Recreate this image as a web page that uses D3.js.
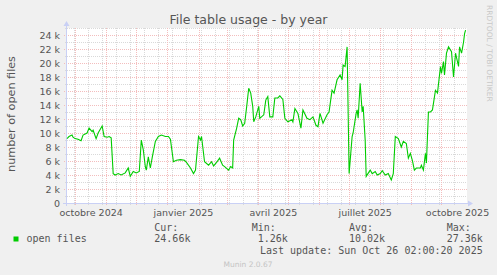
<!DOCTYPE html>
<html><head><meta charset="utf-8">
<script src="https://cdn.jsdelivr.net/npm/d3@7"></script>
<style>
html,body{margin:0;padding:0;background:#F0F0F0;}
svg{display:block;}
text{font-family:"DejaVu Sans",sans-serif;}
.mono{font-family:"DejaVu Sans Mono",monospace;white-space:pre;}
</style></head><body>
<svg id="c" width="497" height="275"></svg>
<script>
// ---- data ----
const dates = ["2024-09-23","2024-09-25","2024-09-28","2024-09-29","2024-10-01","2024-10-04","2024-10-07","2024-10-09","2024-10-13","2024-10-15","2024-10-18","2024-10-19","2024-10-22","2024-10-24","2024-10-28","2024-10-30","2024-11-02","2024-11-04","2024-11-06","2024-11-08","2024-11-10","2024-11-13","2024-11-16","2024-11-20","2024-11-23","2024-11-25","2024-11-28","2024-12-01","2024-12-04","2024-12-06","2024-12-08","2024-12-10","2024-12-11","2024-12-13","2024-12-15","2024-12-17","2024-12-20","2024-12-23","2024-12-26","2024-12-30","2025-01-02","2025-01-04","2025-01-07","2025-01-10","2025-01-14","2025-01-18","2025-01-20","2025-01-24","2025-01-27","2025-01-29","2025-02-01","2025-02-03","2025-02-04","2025-02-07","2025-02-11","2025-02-14","2025-02-16","2025-02-19","2025-02-22","2025-02-25","2025-02-27","2025-03-03","2025-03-05","2025-03-07","2025-03-08","2025-03-11","2025-03-13","2025-03-15","2025-03-17","2025-03-19","2025-03-21","2025-03-23","2025-03-25","2025-03-27","2025-03-28","2025-03-30","2025-04-02","2025-04-03","2025-04-07","2025-04-09","2025-04-11","2025-04-13","2025-04-16","2025-04-18","2025-04-21","2025-04-23","2025-04-26","2025-04-28","2025-05-01","2025-05-05","2025-05-06","2025-05-08","2025-05-11","2025-05-14","2025-05-16","2025-05-20","2025-05-23","2025-05-26","2025-05-29","2025-05-31","2025-06-02","2025-06-05","2025-06-09","2025-06-11","2025-06-14","2025-06-16","2025-06-19","2025-06-22","2025-06-24","2025-06-25","2025-06-27","2025-06-29","2025-07-01","2025-07-04","2025-07-05","2025-07-08","2025-07-09","2025-07-10","2025-07-12","2025-07-14","2025-07-15","2025-07-17","2025-07-18","2025-07-22","2025-07-24","2025-07-27","2025-07-29","2025-08-01","2025-08-03","2025-08-06","2025-08-09","2025-08-12","2025-08-14","2025-08-16","2025-08-19","2025-08-22","2025-08-24","2025-08-27","2025-08-29","2025-08-31","2025-09-02","2025-09-04","2025-09-06","2025-09-10","2025-09-11","2025-09-13","2025-09-15","2025-09-16","2025-09-18","2025-09-20","2025-09-22","2025-09-25","2025-09-27","2025-09-30","2025-10-01","2025-10-03","2025-10-04","2025-10-06","2025-10-08","2025-10-11","2025-10-13","2025-10-15","2025-10-18","2025-10-19","2025-10-21","2025-10-23","2025-10-24","2025-10-25"];
const openFilesK = [9.2,9.5,9.7,9.4,9.2,9.1,8.9,9.7,10.0,10.7,10.2,10.4,9.2,10.0,11.0,9.5,9.4,9.5,9.3,4.2,4.0,4.2,4.0,4.3,5.0,3.8,4.5,4.3,4.5,9.0,7.6,5.2,4.7,6.6,5.0,6.6,8.8,9.5,9.7,9.5,9.5,9.1,5.9,6.1,6.2,6.1,5.8,5.0,4.2,4.7,9.5,9.0,9.5,5.9,5.4,5.9,5.3,5.8,6.4,5.4,5.2,4.7,5.2,5.0,9.0,10.7,12.1,11.9,11.0,11.4,13.8,16.4,15.7,13.8,11.6,12.3,13.8,12.1,12.6,14.7,15.2,12.3,12.3,15.0,15.0,15.3,14.8,12.1,11.6,11.9,11.6,13.5,12.8,10.7,13.3,12.1,11.9,12.3,11.1,10.9,12.8,11.4,12.6,13.0,16.1,15.7,17.6,18.3,17.6,19.7,19.5,22.3,4.2,9.5,10.0,12.8,13.3,12.1,17.1,13.0,13.8,9.0,3.8,4.7,4.2,4.5,4.0,4.2,4.6,4.0,4.2,3.3,4.2,9.5,9.2,8.0,8.8,8.5,6.4,7.1,6.1,4.7,5.0,5.0,5.4,4.7,7.1,5.7,13.0,13.0,13.3,16.1,15.7,19.5,18.5,20.2,18.3,21.4,22.3,21.6,18.0,21.4,19.5,22.3,21.4,23.0,24.2,24.7];
const yTicks = [0,2,4,6,8,10,12,14,16,18,20,22,24];
const yMinorTicks = [1,3,5,7,9,11,13,15,17,19,21,23,25];
const labelMonths = ["2024-10-01","2025-01-01","2025-04-01","2025-07-01","2025-10-01"];
const monthLabels = ["octobre 2024","janvier 2025","avril 2025","juillet 2025","octobre 2025"];
const statNames = ["Cur:","Min:","Avg:","Max:"];
const statValues = ["24.66k"," 1.26k","10.02k","27.36k"];
const seriesName = "open files";
const lastUpdate = "Last update: Sun Oct 26 02:00:20 2025";

// ---- layout ----
const L=67, R=467, T=28, B=203;
const svg = d3.select("#c");
const parse = d3.timeParse("%Y-%m-%d");
const startT = new Date(2024,8,23,0), endT = new Date(2025,9,26,10);
const x = d3.scaleTime().domain([startT,endT]).range([L,R]);
const y = d3.scaleLinear().domain([0,25]).range([B,T]);
const MAJ="#F3BDBD", MIN="#D9D9D9", AX="#C9D0F5", TXT="#555";

svg.append("rect").attr("width",497).attr("height",275).attr("fill","#F0F0F0");
svg.append("rect").attr("x",L).attr("y",T).attr("width",R-L).attr("height",B-T).attr("fill","#fff");

// minor vertical grid: every second Monday
const mondays = d3.timeMonday.range(startT,endT).filter((d,i)=>i%2===1);
const months = d3.timeMonth.range(startT,endT);
const g = svg.append("g");
g.selectAll(".vmin").data(mondays).join("line")
  .attr("x1",d=>Math.round(x(d))+0.5).attr("x2",d=>Math.round(x(d))+0.5)
  .attr("y1",T).attr("y2",B+2).attr("stroke",MIN).attr("stroke-dasharray","1,1");
g.selectAll(".hmin").data(yMinorTicks).join("line")
  .attr("x1",L-2).attr("x2",R).attr("y1",d=>Math.round(y(d))+0.5).attr("y2",d=>Math.round(y(d))+0.5)
  .attr("stroke",MIN).attr("stroke-dasharray","1,1");
g.selectAll(".vmaj").data(months).join("line")
  .attr("x1",d=>Math.round(x(d))+0.5).attr("x2",d=>Math.round(x(d))+0.5)
  .attr("y1",T).attr("y2",B+3).attr("stroke",MAJ).attr("stroke-dasharray","1,1");
g.selectAll(".hmaj").data(yTicks).join("line")
  .attr("x1",L-3).attr("x2",R).attr("y1",d=>Math.round(y(d))+0.5).attr("y2",d=>Math.round(y(d))+0.5)
  .attr("stroke",MAJ).attr("stroke-dasharray","1,1");

// axes
const yAxis = d3.axisLeft(y).tickValues(yTicks).tickSize(0).tickPadding(7)
  .tickFormat(d=> d===0 ? "0" : d+" k");
const ya = svg.append("g").attr("transform",`translate(${L},0)`).call(yAxis);
ya.select(".domain").remove();
ya.selectAll("text").attr("fill",TXT).style("font-size","9.5px").style("font-family","DejaVu Sans");

const mid = labelMonths.map(s=>{const a=parse(s); const b=d3.timeMonth.offset(a,1); return new Date((+a + +b)/2);});
const xAxis = d3.axisBottom(x).tickValues(mid).tickSize(0).tickPadding(6)
  .tickFormat((d,i)=>monthLabels[i]);
const xa = svg.append("g").attr("transform",`translate(0,${B})`).call(xAxis);
xa.select(".domain").remove();
xa.selectAll("text").attr("fill",TXT).style("font-size","9.5px").style("font-family","DejaVu Sans");

// axis lines with arrows
svg.append("line").attr("x1",L-4).attr("x2",R+2).attr("y1",B+0.5).attr("y2",B+0.5).attr("stroke",AX);
svg.append("path").attr("d",`M${R+1},${B-2.5} L${R+6},${B+0.5} L${R+1},${B+3.5} Z`).attr("fill",AX);
svg.append("line").attr("x1",L-0.5).attr("x2",L-0.5).attr("y1",B+3).attr("y2",T-2).attr("stroke",AX);
svg.append("path").attr("d",`M${L-3.5},${T-2} L${L-0.5},${T-7} L${L+2.5},${T-2} Z`).attr("fill",AX);

// line
const data = dates.map((d,i)=>({t:parse(d), v:openFilesK[i]}));
svg.append("path").datum(data)
  .attr("d", d3.line().x(d=>x(d.t)).y(d=>y(d.v)))
  .attr("fill","none").attr("stroke","#00CC00").attr("stroke-width",1.1);

// title & labels
svg.append("text").attr("x",248.5).attr("y",24).attr("text-anchor","middle")
  .attr("fill",TXT).style("font-size","12.5px").text("File table usage - by year");
svg.append("text").attr("transform","translate(15,114) rotate(-90)").attr("text-anchor","middle")
  .attr("fill",TXT).style("font-size","11.2px").text("number of open files");
svg.append("text").attr("transform","translate(487,5) rotate(90)").attr("text-anchor","start")
  .attr("fill","#C8C8C8").style("font-size","7.5px").text("RRDTOOL / TOBI OETIKER");

// legend
svg.append("rect").attr("x",13.5).attr("y",236.5).attr("width",5).attr("height",5).attr("fill","#00CC00");
svg.append("text").attr("class","mono").attr("x",26.5).attr("y",242).attr("fill",TXT).style("font-size","10px").text(seriesName);
const colX = [154.3,251.7,349,446.7];
statNames.forEach((n,i)=>{
  svg.append("text").attr("class","mono").attr("x",colX[i]).attr("y",231).attr("fill",TXT).style("font-size","10px").text(n);
  svg.append("text").attr("class","mono").attr("x",colX[i]).attr("y",242).attr("fill",TXT).style("font-size","10px").text(statValues[i]);
});
svg.append("text").attr("class","mono").attr("x",482.7).attr("y",254).attr("text-anchor","end").attr("fill",TXT).style("font-size","10px").text(lastUpdate);
svg.append("text").attr("x",248).attr("y",267).attr("text-anchor","middle").attr("fill","#C4C4C4").style("font-size","7.5px").text("Munin 2.0.67");
</script>
</body></html>
